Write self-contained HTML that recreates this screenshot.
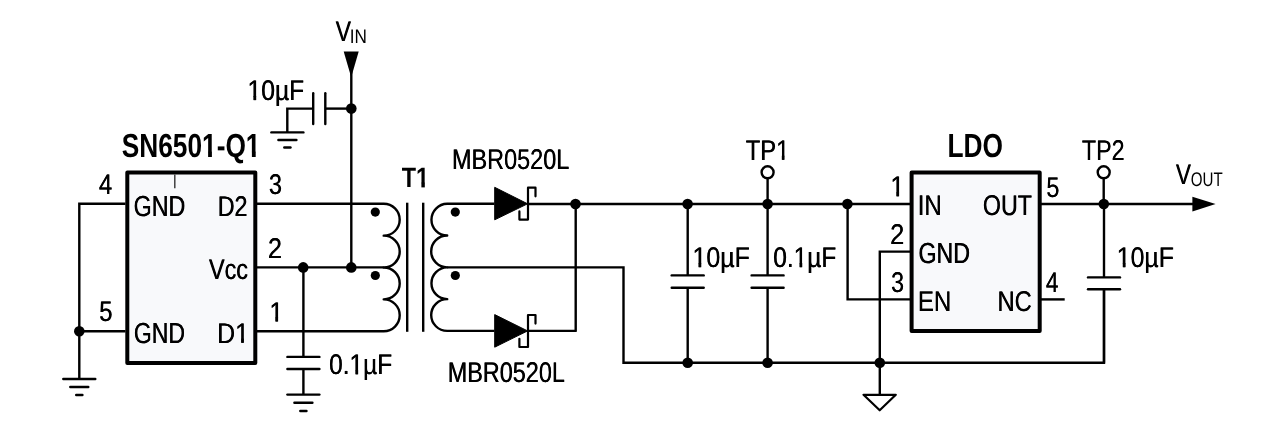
<!DOCTYPE html>
<html><head><meta charset="utf-8"><title>SN6501-Q1 isolated supply schematic</title>
<style>
html,body{margin:0;padding:0;background:#fff;}
body{width:1280px;height:435px;overflow:hidden;}
svg{display:block;will-change:transform;font-family:"Liberation Sans",sans-serif;text-rendering:geometricPrecision;font-kerning:none;}
</style></head><body>
<svg width="1280" height="435" viewBox="0 0 1280 435">
<defs>
<clipPath id="c0"><rect x="-2" y="-33.30" width="35.30" height="28.60"/></clipPath>
<clipPath id="c1"><rect x="-2" y="-28.00" width="30.00" height="23.84"/></clipPath>
<clipPath id="c2"><rect x="-2" y="-28.50" width="30.50" height="25.07"/></clipPath>
</defs>
<g stroke="#000" fill="none">
<rect x="127.3" y="172.5" width="128" height="190.6" fill="#f8f9fb" stroke-width="4" stroke-linejoin="round"/>
<rect x="911.6" y="172.5" width="128.1" height="158.5" fill="#f8f9fb" stroke-width="4" stroke-linejoin="round"/>
<line x1="174.8" y1="174.5" x2="174.8" y2="188.3" stroke="#333" stroke-width="1.4"/>
<path d="M125.5,203.8 H79.3 V379" stroke-width="2.4" stroke-linejoin="miter"/>
<line x1="79.3" y1="331.3" x2="125.5" y2="331.3" stroke-width="2.4"/>
<circle cx="79.3" cy="331.3" r="5.3" fill="#000" stroke="none"/>
<line x1="63.3" y1="379" x2="95.3" y2="379" stroke-width="2.4" stroke-linecap="round"/>
<line x1="70.3" y1="387.0" x2="88.3" y2="387.0" stroke-width="2.4" stroke-linecap="round"/>
<line x1="76.2" y1="395.0" x2="82.4" y2="395.0" stroke-width="2.4" stroke-linecap="round"/>
<path d="M257,203.8 H383.7 A16.0,15.925 0 0 1 383.7,235.65 A16.0,15.925 0 0 1 383.7,267.50 A16.0,15.925 0 0 1 383.7,299.35 A16.0,15.925 0 0 1 383.7,331.20 H257" stroke-width="2.4" stroke-linejoin="round"/>
<line x1="257" y1="267.4" x2="383.7" y2="267.4" stroke-width="2.4"/>
<circle cx="303.2" cy="267.4" r="5.3" fill="#000" stroke="none"/>
<circle cx="351.3" cy="267.4" r="5.3" fill="#000" stroke="none"/>
<circle cx="375.3" cy="212.1" r="4.6" fill="#000" stroke="none"/>
<circle cx="375.3" cy="275.5" r="4.6" fill="#000" stroke="none"/>
<line x1="407.2" y1="202.7" x2="407.2" y2="331.8" stroke-width="2.4"/>
<line x1="423.2" y1="202.7" x2="423.2" y2="331.8" stroke-width="2.4"/>
<path d="M494.5,203.8 H447.2 A16.0,15.887 0 0 0 447.2,235.57 A16.0,15.887 0 0 0 447.2,267.35 A16.0,15.887 0 0 0 447.2,299.12 A16.0,15.887 0 0 0 447.2,330.90 H494.5" stroke-width="2.4" stroke-linejoin="round"/>
<circle cx="455.3" cy="212.1" r="4.6" fill="#000" stroke="none"/>
<circle cx="455.3" cy="275.5" r="4.6" fill="#000" stroke="none"/>
<path d="M447.2,267.4 H623.5 V362.8 H1104 V289" stroke-width="2.4" stroke-linejoin="miter"/>
<line x1="303.4" y1="267.4" x2="303.4" y2="356.9" stroke-width="2.4"/>
<line x1="287.4" y1="356.9" x2="319.4" y2="356.9" stroke-width="2.4" stroke-linecap="round"/>
<line x1="287.4" y1="369.0" x2="319.4" y2="369.0" stroke-width="2.4" stroke-linecap="round"/>
<line x1="303.4" y1="369.0" x2="303.4" y2="394.6" stroke-width="2.4"/>
<line x1="287.4" y1="394.6" x2="319.4" y2="394.6" stroke-width="2.4" stroke-linecap="round"/>
<line x1="294.4" y1="402.7" x2="312.4" y2="402.7" stroke-width="2.4" stroke-linecap="round"/>
<line x1="300.3" y1="411.0" x2="306.5" y2="411.0" stroke-width="2.4" stroke-linecap="round"/>
<line x1="351.3" y1="70" x2="351.3" y2="267.4" stroke-width="2.4"/>
<polygon points="343.7,51.5 358.7,51.5 351.2,77.2" fill="#000" stroke="none"/>
<circle cx="351.3" cy="108.6" r="5.3" fill="#000" stroke="none"/>
<line x1="325.3" y1="108.6" x2="351.3" y2="108.6" stroke-width="2.4"/>
<line x1="325.3" y1="93.2" x2="325.3" y2="124" stroke-width="2.4" stroke-linecap="round"/>
<line x1="313.2" y1="93.2" x2="313.2" y2="124" stroke-width="2.4" stroke-linecap="round"/>
<path d="M313.2,108.6 H287.3 V132.4" stroke-width="2.4" stroke-linejoin="miter"/>
<line x1="271.4" y1="132.4" x2="303.4" y2="132.4" stroke-width="2.4" stroke-linecap="round"/>
<line x1="278.4" y1="140.0" x2="296.4" y2="140.0" stroke-width="2.4" stroke-linecap="round"/>
<line x1="284.3" y1="147.5" x2="290.5" y2="147.5" stroke-width="2.4" stroke-linecap="round"/>
<polygon points="494.7,187.29999999999998 494.7,219.8 527.6,203.8" fill="#000" stroke-width="1.0" stroke-linejoin="round"/>
<path d="M535.5,196.29999999999998 V187.7 H528 V219.6 H519.4 V211.4" stroke-width="2.2" stroke-linejoin="round" stroke-linecap="round"/>
<polygon points="494.7,314.6 494.7,347.2 527.6,330.9" fill="#000" stroke-width="1.0" stroke-linejoin="round"/>
<path d="M535.5,323.6 V315.0 H528 V347.0 H519.4 V338.8" stroke-width="2.2" stroke-linejoin="round" stroke-linecap="round"/>
<line x1="528" y1="204.0" x2="910" y2="204.0" stroke-width="2.4"/>
<path d="M528,330.9 H575.7 V204.0" stroke-width="2.4" stroke-linejoin="round"/>
<circle cx="575.5" cy="204.0" r="5.3" fill="#000" stroke="none"/>
<circle cx="687.6" cy="204.0" r="5.3" fill="#000" stroke="none"/>
<circle cx="767.6" cy="204.0" r="5.3" fill="#000" stroke="none"/>
<circle cx="847.4" cy="204.0" r="5.3" fill="#000" stroke="none"/>
<line x1="687.7" y1="204.0" x2="687.7" y2="275.4" stroke-width="2.4"/>
<line x1="671.7" y1="275.4" x2="703.7" y2="275.4" stroke-width="2.4" stroke-linecap="round"/>
<line x1="671.7" y1="287.8" x2="703.7" y2="287.8" stroke-width="2.4" stroke-linecap="round"/>
<line x1="687.7" y1="287.8" x2="687.7" y2="362.8" stroke-width="2.4"/>
<circle cx="687.7" cy="362.8" r="5.3" fill="#000" stroke="none"/>
<line x1="767.6" y1="204.0" x2="767.6" y2="275.4" stroke-width="2.4"/>
<line x1="751.6" y1="275.4" x2="783.6" y2="275.4" stroke-width="2.4" stroke-linecap="round"/>
<line x1="751.6" y1="287.8" x2="783.6" y2="287.8" stroke-width="2.4" stroke-linecap="round"/>
<line x1="767.6" y1="287.8" x2="767.6" y2="362.8" stroke-width="2.4"/>
<circle cx="767.6" cy="362.8" r="5.3" fill="#000" stroke="none"/>
<circle cx="767.6" cy="172.3" r="6.0" fill="#fff" stroke-width="2.4"/>
<line x1="767.6" y1="178.9" x2="767.6" y2="204.0" stroke-width="2.4"/>
<circle cx="1103.7" cy="172.3" r="6.0" fill="#fff" stroke-width="2.4"/>
<line x1="1103.7" y1="178.9" x2="1103.7" y2="204.0" stroke-width="2.4"/>
<path d="M847.6,204.0 V299.4 H910" stroke-width="2.4" stroke-linejoin="miter"/>
<path d="M910,251.6 H879.8 V394.6" stroke-width="2.4" stroke-linejoin="miter"/>
<circle cx="879.8" cy="362.8" r="5.3" fill="#000" stroke="none"/>
<polygon points="863.5,394.8 895.8,394.8 879.7,410.3" fill="#fff" stroke-width="2.2" stroke-linejoin="round"/>
<line x1="1041" y1="204.0" x2="1194" y2="204.0" stroke-width="2.4"/>
<polygon points="1192.4,196.7 1192.4,211.6 1215.6,204.1" fill="#000" stroke="none"/>
<circle cx="1103.8" cy="204.0" r="5.3" fill="#000" stroke="none"/>
<line x1="1104" y1="204.0" x2="1104" y2="277.4" stroke-width="2.4"/>
<line x1="1088.0" y1="277.4" x2="1120.0" y2="277.4" stroke-width="2.4" stroke-linecap="round"/>
<line x1="1088.0" y1="289.3" x2="1120.0" y2="289.3" stroke-width="2.4" stroke-linecap="round"/>
<line x1="1104" y1="289.3" x2="1104" y2="362.8" stroke-width="2.4"/>
<line x1="1041" y1="299.4" x2="1064.7" y2="299.4" stroke-width="2.4"/>
</g>
<g stroke="none" fill="#000">
<g transform="translate(121.74,157.00) scale(0.7889,1)" font-size="33.3" font-weight="bold"><text x="0.00">SN650</text><g transform="translate(101.82,0)"><text clip-path="url(#c0)">1</text><rect x="7.652" y="-5.30" width="4.809" height="5.30"/></g><text x="120.34">-Q</text><g transform="translate(157.33,0)"><text clip-path="url(#c0)">1</text><rect x="7.652" y="-5.30" width="4.809" height="5.30"/></g></g>
<g transform="translate(947.54,156.80) scale(0.7890,1)" font-size="33.3" font-weight="bold"><text x="0.00">LDO</text></g>
<g transform="translate(401.74,187.40) scale(0.8356,1)" font-size="28.0" font-weight="bold"><text x="0.00">T</text><g transform="translate(17.10,0)"><text clip-path="url(#c1)">1</text><rect x="6.415" y="-4.76" width="4.082" height="4.76"/></g></g>
<g transform="translate(98.65,194.30) scale(0.8425,1)" font-size="28.5" font-weight="normal"><text x="0.00">4</text></g><g transform="translate(99.05,194.30) scale(0.8425,1)" font-size="28.5" font-weight="normal"><text x="0.00">4</text></g>
<g transform="translate(99.05,321.10) scale(0.8363,1)" font-size="28.5" font-weight="normal"><text x="0.00">5</text></g><g transform="translate(99.45,321.10) scale(0.8363,1)" font-size="28.5" font-weight="normal"><text x="0.00">5</text></g>
<g transform="translate(133.43,215.50) scale(0.8020,1)" font-size="29.0" font-weight="normal"><text x="0.00">GND</text></g><g transform="translate(133.83,215.50) scale(0.8020,1)" font-size="29.0" font-weight="normal"><text x="0.00">GND</text></g>
<g transform="translate(133.64,342.80) scale(0.7939,1)" font-size="29.0" font-weight="normal"><text x="0.00">GND</text></g><g transform="translate(134.04,342.80) scale(0.7939,1)" font-size="29.0" font-weight="normal"><text x="0.00">GND</text></g>
<g transform="translate(217.49,215.50) scale(0.8175,1)" font-size="28.5" font-weight="normal"><text x="0.00">D2</text></g><g transform="translate(217.89,215.50) scale(0.8175,1)" font-size="28.5" font-weight="normal"><text x="0.00">D2</text></g>
<g transform="translate(208.80,278.50) scale(0.8213,1)" font-size="28.5" font-weight="normal"><text x="0.00">Vcc</text></g><g transform="translate(209.20,278.50) scale(0.8213,1)" font-size="28.5" font-weight="normal"><text x="0.00">Vcc</text></g>
<g transform="translate(216.96,342.80) scale(0.8736,1)" font-size="28.5" font-weight="normal"><text x="0.00">D</text><g transform="translate(20.58,0)"><text clip-path="url(#c2)">1</text><rect x="7.047" y="-4.03" width="2.759" height="4.03"/></g></g><g transform="translate(217.36,342.80) scale(0.8736,1)" font-size="28.5" font-weight="normal"><text x="0.00">D</text><g transform="translate(20.58,0)"><text clip-path="url(#c2)">1</text><rect x="7.047" y="-4.03" width="2.759" height="4.03"/></g></g>
<g transform="translate(268.82,194.20) scale(0.8141,1)" font-size="28.5" font-weight="normal"><text x="0.00">3</text></g><g transform="translate(269.22,194.20) scale(0.8141,1)" font-size="28.5" font-weight="normal"><text x="0.00">3</text></g>
<g transform="translate(267.84,257.90) scale(0.8780,1)" font-size="28.5" font-weight="normal"><text x="0.00">2</text></g><g transform="translate(268.24,257.90) scale(0.8780,1)" font-size="28.5" font-weight="normal"><text x="0.00">2</text></g>
<g transform="translate(269.27,321.50) scale(0.8600,1)" font-size="28.5" font-weight="normal"><g transform="translate(0.00,0)"><text clip-path="url(#c2)">1</text><rect x="7.047" y="-4.03" width="2.759" height="4.03"/></g></g><g transform="translate(269.67,321.50) scale(0.8600,1)" font-size="28.5" font-weight="normal"><g transform="translate(0.00,0)"><text clip-path="url(#c2)">1</text><rect x="7.047" y="-4.03" width="2.759" height="4.03"/></g></g>
<g transform="translate(328.94,374.30) scale(0.8582,1)" font-size="28.5" font-weight="normal"><text x="0.00">0.</text><g transform="translate(23.77,0)"><text clip-path="url(#c2)">1</text><rect x="7.047" y="-4.03" width="2.759" height="4.03"/></g><text x="39.62">µF</text></g><g transform="translate(329.34,374.30) scale(0.8582,1)" font-size="28.5" font-weight="normal"><text x="0.00">0.</text><g transform="translate(23.77,0)"><text clip-path="url(#c2)">1</text><rect x="7.047" y="-4.03" width="2.759" height="4.03"/></g><text x="39.62">µF</text></g>
<g transform="translate(247.33,100.10) scale(0.8646,1)" font-size="28.5" font-weight="normal"><g transform="translate(0.00,0)"><text clip-path="url(#c2)">1</text><rect x="7.047" y="-4.03" width="2.759" height="4.03"/></g><text x="15.85">0µF</text></g><g transform="translate(247.73,100.10) scale(0.8646,1)" font-size="28.5" font-weight="normal"><g transform="translate(0.00,0)"><text clip-path="url(#c2)">1</text><rect x="7.047" y="-4.03" width="2.759" height="4.03"/></g><text x="15.85">0µF</text></g>
<g transform="translate(451.78,169.40) scale(0.8227,1)" font-size="28.5" font-weight="normal"><text x="0.00">MBR0520L</text></g><g transform="translate(452.18,169.40) scale(0.8227,1)" font-size="28.5" font-weight="normal"><text x="0.00">MBR0520L</text></g>
<g transform="translate(447.48,382.30) scale(0.8220,1)" font-size="28.5" font-weight="normal"><text x="0.00">MBR0520L</text></g><g transform="translate(447.88,382.30) scale(0.8220,1)" font-size="28.5" font-weight="normal"><text x="0.00">MBR0520L</text></g>
<g transform="translate(745.57,159.80) scale(0.8336,1)" font-size="28.5" font-weight="normal"><text x="0.00">TP</text><g transform="translate(36.42,0)"><text clip-path="url(#c2)">1</text><rect x="7.047" y="-4.03" width="2.759" height="4.03"/></g></g><g transform="translate(745.97,159.80) scale(0.8336,1)" font-size="28.5" font-weight="normal"><text x="0.00">TP</text><g transform="translate(36.42,0)"><text clip-path="url(#c2)">1</text><rect x="7.047" y="-4.03" width="2.759" height="4.03"/></g></g>
<g transform="translate(1081.68,159.80) scale(0.8168,1)" font-size="28.5" font-weight="normal"><text x="0.00">TP2</text></g><g transform="translate(1082.08,159.80) scale(0.8168,1)" font-size="28.5" font-weight="normal"><text x="0.00">TP2</text></g>
<g transform="translate(692.30,267.20) scale(0.8759,1)" font-size="28.5" font-weight="normal"><g transform="translate(0.00,0)"><text clip-path="url(#c2)">1</text><rect x="7.047" y="-4.03" width="2.759" height="4.03"/></g><text x="15.85">0µF</text></g><g transform="translate(692.70,267.20) scale(0.8759,1)" font-size="28.5" font-weight="normal"><g transform="translate(0.00,0)"><text clip-path="url(#c2)">1</text><rect x="7.047" y="-4.03" width="2.759" height="4.03"/></g><text x="15.85">0µF</text></g>
<g transform="translate(773.04,267.20) scale(0.8582,1)" font-size="28.5" font-weight="normal"><text x="0.00">0.</text><g transform="translate(23.77,0)"><text clip-path="url(#c2)">1</text><rect x="7.047" y="-4.03" width="2.759" height="4.03"/></g><text x="39.62">µF</text></g><g transform="translate(773.44,267.20) scale(0.8582,1)" font-size="28.5" font-weight="normal"><text x="0.00">0.</text><g transform="translate(23.77,0)"><text clip-path="url(#c2)">1</text><rect x="7.047" y="-4.03" width="2.759" height="4.03"/></g><text x="39.62">µF</text></g>
<g transform="translate(1116.61,267.20) scale(0.8711,1)" font-size="28.5" font-weight="normal"><g transform="translate(0.00,0)"><text clip-path="url(#c2)">1</text><rect x="7.047" y="-4.03" width="2.759" height="4.03"/></g><text x="15.85">0µF</text></g><g transform="translate(1117.01,267.20) scale(0.8711,1)" font-size="28.5" font-weight="normal"><g transform="translate(0.00,0)"><text clip-path="url(#c2)">1</text><rect x="7.047" y="-4.03" width="2.759" height="4.03"/></g><text x="15.85">0µF</text></g>
<g transform="translate(917.48,215.10) scale(0.8452,1)" font-size="28.5" font-weight="normal"><text x="0.00">IN</text></g><g transform="translate(917.88,215.10) scale(0.8452,1)" font-size="28.5" font-weight="normal"><text x="0.00">IN</text></g>
<g transform="translate(982.70,215.30) scale(0.8151,1)" font-size="28.5" font-weight="normal"><text x="0.00">OUT</text></g><g transform="translate(983.10,215.30) scale(0.8151,1)" font-size="28.5" font-weight="normal"><text x="0.00">OUT</text></g>
<g transform="translate(918.24,263.30) scale(0.7987,1)" font-size="29.0" font-weight="normal"><text x="0.00">GND</text></g><g transform="translate(918.64,263.30) scale(0.7987,1)" font-size="29.0" font-weight="normal"><text x="0.00">GND</text></g>
<g transform="translate(917.63,311.00) scale(0.8446,1)" font-size="28.5" font-weight="normal"><text x="0.00">EN</text></g><g transform="translate(918.03,311.00) scale(0.8446,1)" font-size="28.5" font-weight="normal"><text x="0.00">EN</text></g>
<g transform="translate(997.35,311.00) scale(0.8320,1)" font-size="28.5" font-weight="normal"><text x="0.00">NC</text></g><g transform="translate(997.75,311.00) scale(0.8320,1)" font-size="28.5" font-weight="normal"><text x="0.00">NC</text></g>
<g transform="translate(890.27,196.30) scale(0.8600,1)" font-size="28.5" font-weight="normal"><g transform="translate(0.00,0)"><text clip-path="url(#c2)">1</text><rect x="7.047" y="-4.03" width="2.759" height="4.03"/></g></g><g transform="translate(890.67,196.30) scale(0.8600,1)" font-size="28.5" font-weight="normal"><g transform="translate(0.00,0)"><text clip-path="url(#c2)">1</text><rect x="7.047" y="-4.03" width="2.759" height="4.03"/></g></g>
<g transform="translate(889.92,244.10) scale(0.8934,1)" font-size="28.5" font-weight="normal"><text x="0.00">2</text></g><g transform="translate(890.32,244.10) scale(0.8934,1)" font-size="28.5" font-weight="normal"><text x="0.00">2</text></g>
<g transform="translate(890.92,291.80) scale(0.8141,1)" font-size="28.5" font-weight="normal"><text x="0.00">3</text></g><g transform="translate(891.32,291.80) scale(0.8141,1)" font-size="28.5" font-weight="normal"><text x="0.00">3</text></g>
<g transform="translate(1046.16,197.00) scale(0.8215,1)" font-size="28.5" font-weight="normal"><text x="0.00">5</text></g><g transform="translate(1046.56,197.00) scale(0.8215,1)" font-size="28.5" font-weight="normal"><text x="0.00">5</text></g>
<g transform="translate(1045.68,291.70) scale(0.7938,1)" font-size="28.5" font-weight="normal"><text x="0.00">4</text></g><g transform="translate(1046.08,291.70) scale(0.7938,1)" font-size="28.5" font-weight="normal"><text x="0.00">4</text></g>
<g transform="translate(335.50,40.70) scale(0.7996,1)" font-size="28.5" font-weight="normal"><text x="0.00">V</text></g><g transform="translate(335.90,40.70) scale(0.7996,1)" font-size="28.5" font-weight="normal"><text x="0.00">V</text></g>
<g transform="translate(349.71,43.00) scale(0.8681,1)" font-size="19.8" font-weight="normal"><text x="0.00">IN</text></g>
<g transform="translate(1175.80,183.70) scale(0.7836,1)" font-size="28.5" font-weight="normal"><text x="0.00">V</text></g><g transform="translate(1176.20,183.70) scale(0.7836,1)" font-size="28.5" font-weight="normal"><text x="0.00">V</text></g>
<g transform="translate(1190.78,185.70) scale(0.7648,1)" font-size="19.8" font-weight="normal"><text x="0.00">OUT</text></g>
</g>
</svg>
</body></html>
